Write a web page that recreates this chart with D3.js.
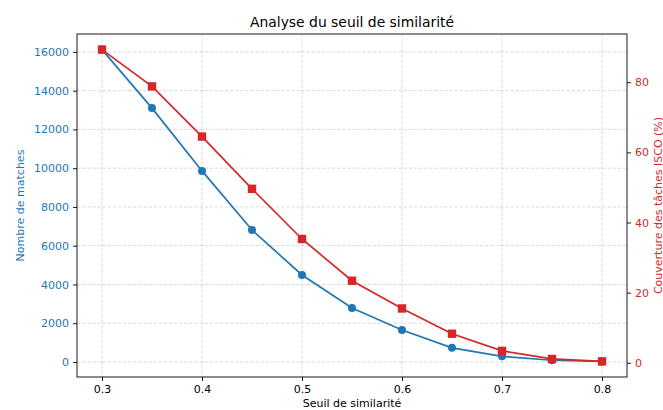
<!DOCTYPE html>
<html>
<head>
<meta charset="utf-8">
<script src="https://cdn.jsdelivr.net/npm/d3@7"></script>
<style>
  body { margin: 0; background: #fff; }
  svg { font-family: "DejaVu Sans", sans-serif; }
</style>
</head>
<body>
<svg id="chart" width="663" height="410"></svg>
<script>
// Data
const thresholds = [0.3, 0.35, 0.4, 0.45, 0.5, 0.55, 0.6, 0.65, 0.7, 0.75, 0.8];
const matches = [16120, 13100, 9860, 6810, 4490, 2790, 1650, 730, 290, 90, 30];
const coverage = [89.3, 78.8, 64.5, 49.6, 35.3, 23.4, 15.5, 8.3, 3.4, 1.1, 0.4];
const xTicks = [0.3, 0.4, 0.5, 0.6, 0.7, 0.8];
const leftTicks = [0, 2000, 4000, 6000, 8000, 10000, 12000, 14000, 16000];
const rightTicks = [0, 20, 40, 60, 80];

const blue = '#1f77b4';
const red = '#d62728';

const svg = d3.select('#chart');
const margin = { top: 34, right: 36, bottom: 33, left: 77 };
const width = 663 - margin.left - margin.right;
const height = 410 - margin.top - margin.bottom;

const g = svg.append('g')
  .attr('transform', `translate(${margin.left},${margin.top})`);

// matplotlib-like 5% padding
const pad = (lo, hi) => { const d = (hi - lo) * 0.05; return [lo - d, hi + d]; };

const x = d3.scaleLinear()
  .domain(pad(d3.min(thresholds), d3.max(thresholds)))
  .range([0, width]);
const yLeft = d3.scaleLinear()
  .domain(pad(d3.min(matches), d3.max(matches)))
  .range([height, 0]);
const yRight = d3.scaleLinear()
  .domain(pad(d3.min(coverage), d3.max(coverage)))
  .range([height, 0]);

// Grid
g.selectAll('.grid-x')
  .data(xTicks)
  .enter().append('line')
  .attr('x1', d => x(d)).attr('x2', d => x(d))
  .attr('y1', 0).attr('y2', height)
  .attr('stroke', '#b0b0b0')
  .attr('stroke-opacity', 0.5)
  .attr('stroke-width', 0.9)
  .attr('stroke-dasharray', '3.5,1.6');

g.selectAll('.grid-y')
  .data(leftTicks)
  .enter().append('line')
  .attr('x1', 0).attr('x2', width)
  .attr('y1', d => yLeft(d)).attr('y2', d => yLeft(d))
  .attr('stroke', '#b0b0b0')
  .attr('stroke-opacity', 0.5)
  .attr('stroke-width', 0.9)
  .attr('stroke-dasharray', '3.5,1.6');

// Axes
const styleAxis = (sel, color) => {
  sel.select('.domain').remove();
  sel.selectAll('.tick line').attr('stroke', '#000').attr('stroke-width', 0.9);
  sel.selectAll('.tick text')
    .attr('fill', color)
    .style('font-size', '11px')
    .style('font-family', '"DejaVu Sans", sans-serif');
};

g.append('g')
  .attr('transform', `translate(0,${height})`)
  .call(d3.axisBottom(x).tickValues(xTicks).tickFormat(d3.format('.1f')).tickSize(4).tickPadding(4))
  .call(s => styleAxis(s, '#000'));

g.append('g')
  .call(d3.axisLeft(yLeft).tickValues(leftTicks).tickFormat(d3.format('d')).tickSize(4).tickPadding(4))
  .call(s => styleAxis(s, blue));

g.append('g')
  .attr('transform', `translate(${width},0)`)
  .call(d3.axisRight(yRight).tickValues(rightTicks).tickFormat(d3.format('d')).tickSize(4).tickPadding(4))
  .call(s => styleAxis(s, red));

// Matches line
const lineLeft = d3.line()
  .x((d, i) => x(thresholds[i]))
  .y(d => yLeft(d));

g.append('path')
  .datum(matches)
  .attr('fill', 'none')
  .attr('stroke', blue)
  .attr('stroke-width', 1.7)
  .attr('d', lineLeft);

g.selectAll('.dot-blue')
  .data(matches)
  .enter().append('circle')
  .attr('cx', (d, i) => x(thresholds[i]))
  .attr('cy', d => yLeft(d))
  .attr('r', 4)
  .attr('fill', blue);

// Coverage line
const lineRight = d3.line()
  .x((d, i) => x(thresholds[i]))
  .y(d => yRight(d));

g.append('path')
  .datum(coverage)
  .attr('fill', 'none')
  .attr('stroke', red)
  .attr('stroke-width', 1.7)
  .attr('d', lineRight);

g.selectAll('.dot-red')
  .data(coverage)
  .enter().append('rect')
  .attr('x', (d, i) => x(thresholds[i]) - 4.2)
  .attr('y', d => yRight(d) - 4.2)
  .attr('width', 8.4)
  .attr('height', 8.4)
  .attr('fill', red);

// Frame
g.append('rect')
  .attr('width', width)
  .attr('height', height)
  .attr('fill', 'none')
  .attr('stroke', '#000')
  .attr('stroke-width', 0.9);

// Labels
svg.append('text')
  .attr('x', margin.left + width / 2)
  .attr('y', 26.5)
  .attr('text-anchor', 'middle')
  .style('font-size', '13.9px')
  .attr('fill', '#000')
  .text('Analyse du seuil de similarité');

svg.append('text')
  .attr('x', margin.left + width / 2)
  .attr('y', 407)
  .attr('text-anchor', 'middle')
  .style('font-size', '11px')
  .attr('fill', '#000')
  .text('Seuil de similarité');

svg.append('text')
  .attr('transform', `translate(24,${margin.top + height / 2}) rotate(-90)`)
  .attr('text-anchor', 'middle')
  .style('font-size', '11px')
  .attr('fill', blue)
  .text('Nombre de matches');

svg.append('text')
  .attr('transform', `translate(661.5,${margin.top + height / 2}) rotate(-90)`)
  .attr('text-anchor', 'middle')
  .style('font-size', '11px')
  .attr('fill', red)
  .text('Couverture des tâches ISCO (%)');
</script>
</body>
</html>
